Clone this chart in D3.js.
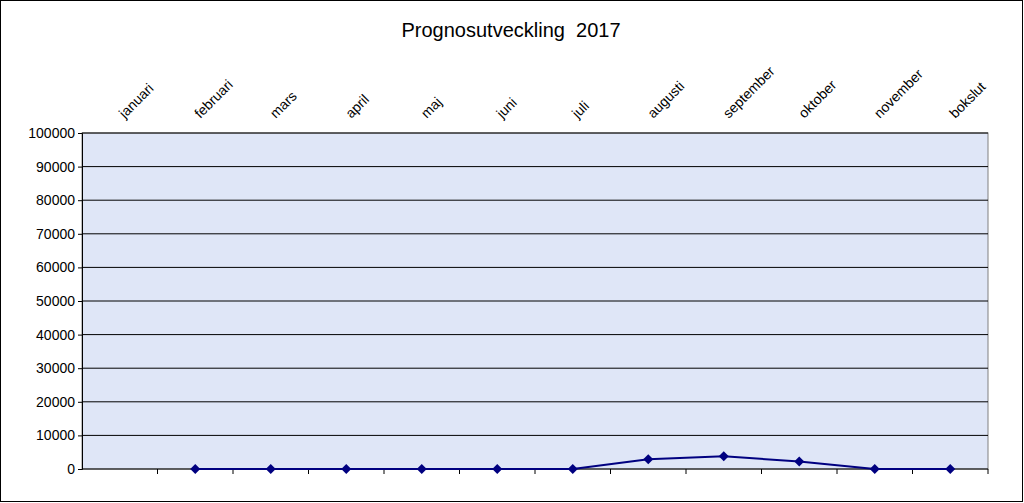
<!DOCTYPE html><html><head><meta charset="utf-8">
<script src="https://cdn.jsdelivr.net/npm/d3@7"></script>
<style>body{margin:0;background:#fff}svg{display:block}</style></head><body>
<svg id="c" width="1024" height="503"></svg>
<script>
const categories=["januari","februari","mars","april","maj","juni","juli","augusti","september","oktober","november","bokslut"];
const values=[null,0,0,0,0,0,0,2900,3800,2200,0,0];
const yTicks=[0,10000,20000,30000,40000,50000,60000,70000,80000,90000,100000];
const svg=d3.select("#c");
const L=82,R=988,T=133,B=469;
svg.append("rect").attr("x",0.5).attr("y",0.5).attr("width",1022).attr("height",501).attr("fill","#fff").attr("stroke","#000");
const x=d3.scaleBand().domain(categories).range([L,R]);
const y=d3.scaleLinear().domain([0,100000]).range([B,T]);
svg.append("rect").attr("x",L).attr("y",T).attr("width",R-L).attr("height",B-T).attr("fill","#dfe6f7").attr("stroke","#808080");
svg.append("g").selectAll("line").data(yTicks.slice(1)).join("line").attr("x1",L).attr("x2",R).attr("y1",d=>y(d)).attr("y2",d=>y(d)).attr("stroke","#000").attr("stroke-width",1);
const ya=svg.append("g").attr("transform",`translate(${L},0)`).call(d3.axisLeft(y).tickValues(yTicks).tickFormat(d3.format("d")).tickSize(4));
ya.select(".domain").attr("stroke","#000");
ya.selectAll("text").attr("font-family","Liberation Sans, Arial").attr("font-size",14).attr("fill","#000");
const xa=svg.append("g").attr("transform",`translate(0,${B})`);
xa.append("line").attr("x1",L).attr("x2",R).attr("stroke","#000");
xa.selectAll("line.t").data(categories.slice(1).concat(["_end"])).join("line").attr("class","t")
 .attr("x1",d=>d==="_end"?R:x(d)).attr("x2",d=>d==="_end"?R:x(d)).attr("y1",0).attr("y2",5).attr("stroke","#000");
svg.append("g").selectAll("text").data(categories).join("text")
 .attr("transform",d=>`translate(${x(d)+x.bandwidth()/2+5},${119}) rotate(-45)`)
 .attr("font-family","Liberation Sans, Arial").attr("font-size",14).text(d=>d);
const pts=categories.map((c,i)=>({c,v:values[i]})).filter(d=>d.v!==null);
svg.append("path").datum(pts).attr("fill","none").attr("stroke","#000080").attr("stroke-width",2)
 .attr("d",d3.line().x(d=>x(d.c)+x.bandwidth()/2).y(d=>y(d.v)));
svg.append("g").selectAll("path").data(pts).join("path")
 .attr("transform",d=>`translate(${x(d.c)+x.bandwidth()/2},${y(d.v)})`)
 .attr("d","M0,-5L5,0L0,5L-5,0Z").attr("fill","#000080");
svg.append("text").attr("x",511).attr("y",37).attr("text-anchor","middle").attr("font-family","Liberation Sans, Arial").attr("font-size",20).text("Prognosutveckling  2017").attr("xml:space","preserve").style("white-space","pre");
</script></body></html>
